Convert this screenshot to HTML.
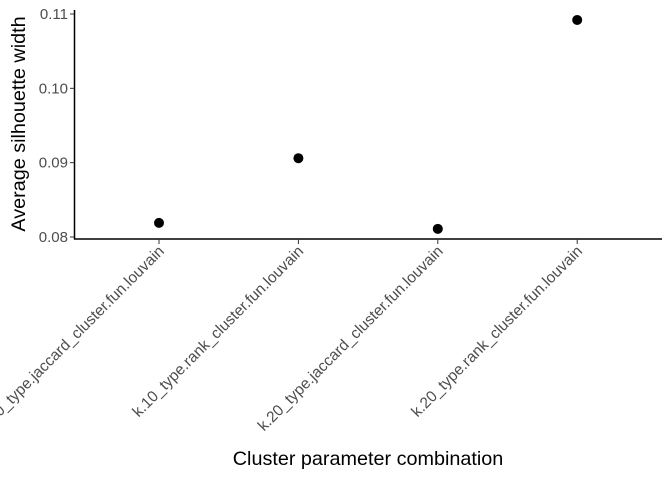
<!DOCTYPE html>
<html><head><meta charset="utf-8"><style>
body{margin:0;background:#fff}
svg{display:block;font-family:"Liberation Sans",Arial,sans-serif}
</style></head><body>
<svg id="chart" width="672" height="480" viewBox="0 0 672 480">
<line x1="74.5" y1="10" x2="74.5" y2="239.5" stroke="#000" stroke-width="1.5"/>
<line x1="74" y1="239" x2="662" y2="239" stroke="#000" stroke-width="1.5"/>
<g id="yticks"></g><g id="xticks"></g><g id="points"></g>
<text x="368" y="465" text-anchor="middle" font-size="19.8" fill="#000">Cluster parameter combination</text>
<text transform="translate(25,124) rotate(-90)" text-anchor="middle" font-size="19.8" fill="#000">Average silhouette width</text>
</svg>
<script>
const categories=["k.10_type.jaccard_cluster.fun.louvain","k.10_type.rank_cluster.fun.louvain","k.20_type.jaccard_cluster.fun.louvain","k.20_type.rank_cluster.fun.louvain"];
const values=[0.0819,0.0906,0.0811,0.1092];
const yTicks=[0.08,0.09,0.10,0.11];
const yTickLabels=["0.08","0.09","0.10","0.11"];
const NS="http://www.w3.org/2000/svg";
function y(v){return 237-(v-0.08)/0.03*223;}
function x(i){return 159+i*139.4;}
function mk(t,a,p){const e=document.createElementNS(NS,t);for(const k in a)e.setAttribute(k,a[k]);p.appendChild(e);return e;}
const yt=document.getElementById('yticks'),xt=document.getElementById('xticks'),pt=document.getElementById('points');
yTicks.forEach((v,i)=>{
 const l=mk('line',{x1:70,x2:74,y1:y(v),y2:y(v),stroke:'#333','stroke-width':1},yt);
 
 
 const t=mk('text',{x:68,y:y(v)+5,'text-anchor':'end','font-size':15,fill:'#4d4d4d'},yt);
 t.textContent=yTickLabels[i];
 
 
});
categories.forEach((c,i)=>{
 const l=mk('line',{x1:x(i),x2:x(i),y1:239,y2:244,stroke:'#333','stroke-width':1},xt);
 
 
 const t=mk('text',{transform:`translate(${x(i)+6},252) rotate(-45)`,'text-anchor':'end','font-size':15.5,fill:'#4d4d4d'},xt);
 t.textContent=c;
 
 
});
values.forEach((v,i)=>{
 const p=mk('circle',{cx:x(i),cy:y(v),r:5,fill:'#000'},pt);
 
 
});
</script>
</body></html>
